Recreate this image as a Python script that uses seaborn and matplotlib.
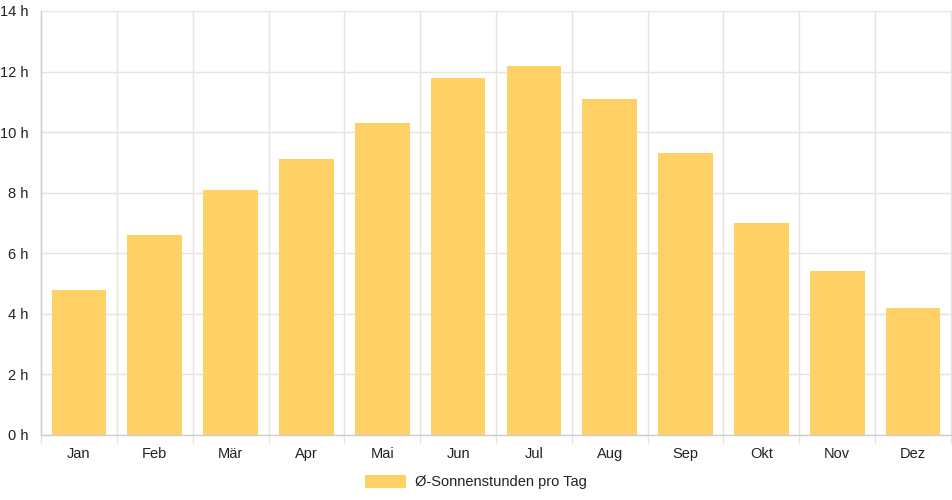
import numpy as np
import pandas as pd
import matplotlib
matplotlib.use("Agg")
import matplotlib.pyplot as plt
import seaborn as sns
from matplotlib.patches import Patch

# Monthly data
months = ["Jan", "Feb", "Mär", "Apr", "Mai", "Jun", "Jul", "Aug", "Sep", "Okt", "Nov", "Dez"]
sun_hours = [4.8, 6.6, 8.1, 9.1, 10.3, 11.8, 12.2, 11.1, 9.3, 7.0, 5.4, 4.2]
y_ticks = [0, 2, 4, 6, 8, 10, 12, 14]
y_labels = [f"{t} h" for t in y_ticks]
series_name = "Ø-Sonnenstunden pro Tag"

df = pd.DataFrame({"Monat": months, "Stunden": sun_hours})

sns.set_style("white")
plt.rcParams["font.family"] = ["Liberation Sans", "DejaVu Sans"]

bar_color = "#fed166"
grid_color = "#e4e4e4"
text_color = "#222222"

fig = plt.figure(figsize=(9.52, 5.0), dpi=100)
ax = fig.add_axes([41 / 952, 65 / 500, 910 / 952, 424 / 500])

sns.barplot(data=df, x="Monat", y="Stunden", color=bar_color, width=0.72,
            saturation=1, linewidth=0, ax=ax, zorder=3)

ax.set_ylim(0, 14)
ax.set_xlim(-0.5, len(months) - 0.5)
ax.set_yticks(y_ticks)
ax.set_yticklabels(y_labels)
ax.set_xlabel("")
ax.set_ylabel("")

# horizontal grid
for t in y_ticks:
    ax.axhline(t, color=grid_color, lw=1, zorder=0)
# vertical grid at category boundaries, extending below the axis as ticks
for b in np.arange(-0.5, len(months), 1.0):
    ax.plot([b, b], [0, 14], color=grid_color, lw=1, zorder=0, clip_on=False)
    ax.plot([b, b], [0, -0.27], color=grid_color, lw=1, zorder=0, clip_on=False)

for s in ax.spines.values():
    s.set_visible(False)
ax.plot([-0.5, len(months) - 0.5], [0, 0], color="#cccccc", lw=1, zorder=4, clip_on=False)
ax.plot([-0.5, -0.5], [0, 14], color="#cccccc", lw=1, zorder=4, clip_on=False)

ax.tick_params(axis="both", length=0, labelsize=10.5, colors=text_color)
ax.tick_params(axis="x", pad=8.5)
ax.tick_params(axis="y", pad=9)
for lbl in ax.get_yticklabels():
    lbl.set_horizontalalignment("right")

handles = [Patch(facecolor=bar_color, edgecolor="none")]
fig.legend(handles, [series_name], loc="center", bbox_to_anchor=(0.5, 1 - 482 / 500),
           frameon=False, fontsize=10.5, handlelength=2.8, handleheight=1.0,
           handletextpad=0.6, labelcolor=text_color)

fig.savefig("out.png", dpi=100)
